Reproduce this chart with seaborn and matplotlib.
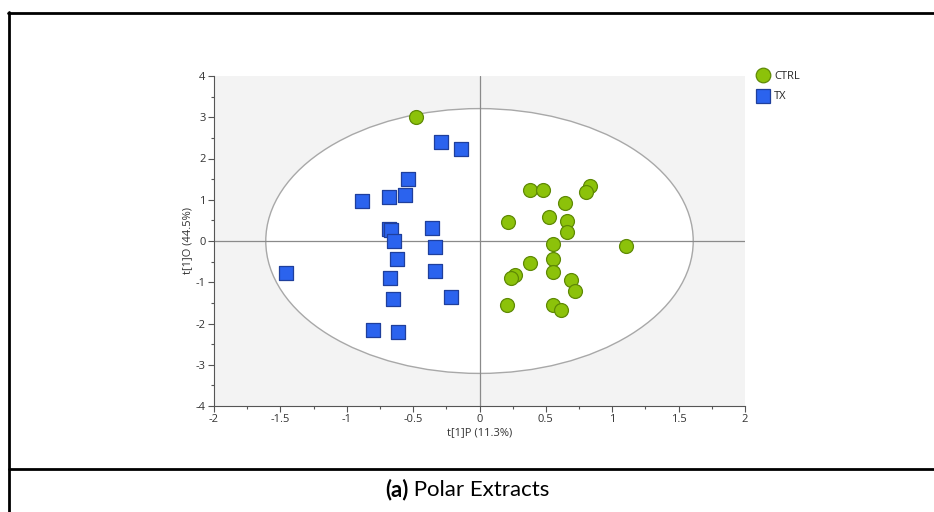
import numpy as np
import pandas as pd
import matplotlib
matplotlib.use("Agg")
import matplotlib.pyplot as plt
from matplotlib.patches import Ellipse
from matplotlib.lines import Line2D
from matplotlib.ticker import MultipleLocator, FuncFormatter
import seaborn as sns

# Scores of the OPLS-DA model: predictive (t[1]P) and orthogonal (t[1]O) components
ctrl_p = [-0.477, 0.377, 0.478, 0.833, 0.805, 0.647, 0.526, 0.211, 0.662, 0.662, 0.556,
          1.100, 0.551, 0.383, 0.264, 0.237, 0.551, 0.692, 0.720, 0.207, 0.551, 0.614]
ctrl_o = [3.00, 1.24, 1.24, 1.33, 1.18, 0.92, 0.57, 0.46, 0.48, 0.23, -0.07,
          -0.13, -0.44, -0.54, -0.82, -0.90, -0.74, -0.95, -1.20, -1.54, -1.54, -1.67]
tx_p = [-0.292, -0.142, -0.541, -0.561, -0.684, -0.883, -0.682, -0.669, -0.355, -0.642,
        -0.333, -1.457, -0.619, -0.676, -0.334, -0.651, -0.211, -0.802, -0.611]
tx_o = [2.39, 2.23, 1.51, 1.12, 1.07, 0.98, 0.29, 0.27, 0.31, 0.00,
        -0.15, -0.77, -0.44, -0.90, -0.73, -1.41, -1.36, -2.16, -2.21]
groups = ["CTRL", "TX"]
x_label = "t[1]P (11.3%)"
y_label = "t[1]O (44.5%)"
caption_bold = "(a)"
caption_text = " Polar Extracts"
# Hotelling's T2 (95%) ellipse semi-axes
t2_a, t2_b = 1.61, 3.21

df = pd.DataFrame({
    "p": ctrl_p + tx_p,
    "o": ctrl_o + tx_o,
    "group": [groups[0]] * len(ctrl_p) + [groups[1]] * len(tx_p),
})

sns.set_style("white")
plt.rcParams["font.family"] = ["Open Sans", "DejaVu Sans"]

fig = plt.figure(figsize=(9.34, 5.12), dpi=100)
ax = fig.add_axes([214 / 934, 1 - 406 / 512, (745 - 214) / 934, (406 - 76) / 512])
ax.set_facecolor("#f3f3f3")

ax.add_patch(Ellipse((0, 0), 2 * t2_a, 2 * t2_b, facecolor="white",
                     edgecolor="#a8a8a8", linewidth=1.0, zorder=0.5))
ax.axhline(0, color="#8a8a8a", linewidth=0.9, zorder=1)
ax.axvline(0, color="#8a8a8a", linewidth=0.9, zorder=1)

palette = {"CTRL": "#8cc20a", "TX": "#2b63ee"}
edges = {"CTRL": "#5f8a05", "TX": "#1f3f9c"}
markers = {"CTRL": "o", "TX": "s"}
sizes = {"CTRL": 100, "TX": 92}
for g in groups:
    sub = df[df["group"] == g]
    sns.scatterplot(data=sub, x="p", y="o", ax=ax, color=palette[g], marker=markers[g],
                    s=sizes[g], edgecolor=edges[g], linewidth=0.9,
                    zorder=3, legend=False)

ax.set_xlim(-2, 2)
ax.set_ylim(-4, 4)
ax.xaxis.set_major_locator(MultipleLocator(0.5))
ax.xaxis.set_minor_locator(MultipleLocator(0.25))
ax.yaxis.set_major_locator(MultipleLocator(1))
ax.yaxis.set_minor_locator(MultipleLocator(0.5))
ax.xaxis.set_major_formatter(FuncFormatter(lambda v, _: f"{v:g}"))
ax.yaxis.set_major_formatter(FuncFormatter(lambda v, _: f"{v:g}"))
ax.tick_params(which="major", direction="out", length=4, width=0.8, color="#555555",
               labelsize=8, labelcolor="#333333", bottom=True, left=True, pad=2)
ax.tick_params(which="minor", direction="out", length=2.5, width=0.8, color="#555555",
               bottom=True, left=True)
for side in ["top", "right"]:
    ax.spines[side].set_visible(False)
for side in ["left", "bottom"]:
    ax.spines[side].set_color("#555555")
    ax.spines[side].set_linewidth(0.8)

ax.set_xlabel(x_label, fontsize=8, color="#333333", labelpad=1)
ax.set_ylabel(y_label, fontsize=8, color="#333333", labelpad=2)

handles = [
    Line2D([], [], marker="o", linestyle="", markersize=10.5, markerfacecolor=palette["CTRL"],
           markeredgecolor=edges["CTRL"], markeredgewidth=0.9),
    Line2D([], [], marker="s", linestyle="", markersize=9.5, markerfacecolor=palette["TX"],
           markeredgecolor=edges["TX"], markeredgewidth=0.9),
]
fig.legend(handles, groups, loc="upper left", bbox_to_anchor=(757 / 934, 1 - 71 / 512),
           frameon=False, fontsize=8, handlelength=1.0, handletextpad=0.55,
           labelspacing=0.85, borderaxespad=0, borderpad=0)

# Table-style frame around the panel and its caption
frame_kw = dict(color="black", linewidth=2.0, transform=fig.transFigure, clip_on=False)
fig.add_artist(Line2D([8 / 934, 1.0], [1 - 13 / 512, 1 - 13 / 512], **frame_kw))
fig.add_artist(Line2D([9 / 934, 9 / 934], [0, 1 - 12 / 512], **frame_kw))
fig.add_artist(Line2D([9 / 934, 1.0], [1 - 469 / 512, 1 - 469 / 512], **frame_kw))

cap_y = 1 - 490 / 512
cap_font = ["Lato", "DejaVu Sans"]
cap_size = 16
t1 = fig.text(0.5, cap_y, caption_bold + caption_text, ha="center", va="center",
              fontsize=cap_size, family=cap_font, color="white")
fig.canvas.draw()
bb = t1.get_window_extent()
t1.set_visible(False)
x0 = bb.x0 / fig.bbox.width
tb = fig.text(x0, cap_y, caption_bold, ha="left", va="center", fontsize=cap_size,
              fontweight="bold", family=cap_font, color="black")
fig.canvas.draw()
bb2 = tb.get_window_extent()
fig.text(bb2.x1 / fig.bbox.width, cap_y, caption_text, ha="left", va="center",
         fontsize=cap_size, family=cap_font, color="black")

fig.savefig("out.png", dpi=100)
